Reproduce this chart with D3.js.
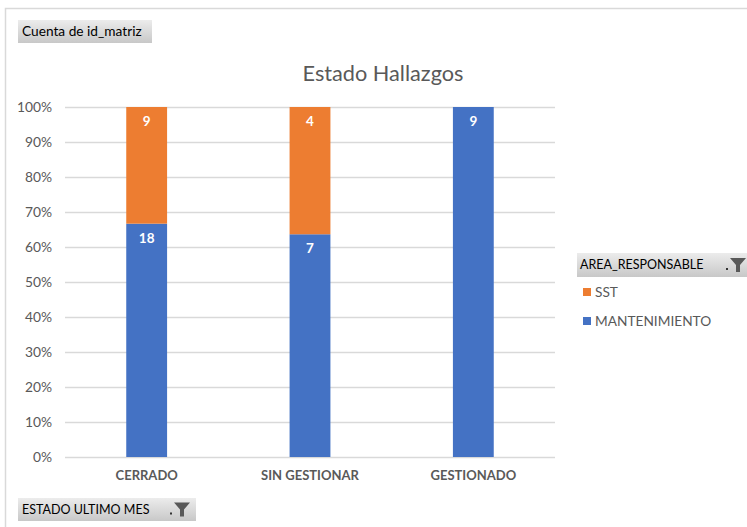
<!DOCTYPE html>
<html>
<head>
<meta charset="utf-8">
<script src="https://cdn.jsdelivr.net/npm/d3@7"></script>
<style>
  body { margin: 0; background: #fff; }
  text { font-family: Lato, "Open Sans", sans-serif; }
</style>
</head>
<body>
<script>
// data
const categories = ["CERRADO", "SIN GESTIONAR", "GESTIONADO"];
const series = ["MANTENIMIENTO", "SST"];
const mantenimiento = [18, 7, 9];
const sst = [9, 4, 0];
const yTicks = [0, 0.1, 0.2, 0.3, 0.4, 0.5, 0.6, 0.7, 0.8, 0.9, 1];
const colors = {"MANTENIMIENTO": "#4472c4", "SST": "#ed7d31"};

const canvWidth = 747, canvHeight = 527;
const svg = d3.select("body").append("svg")
    .attr("width", canvWidth)
    .attr("height", canvHeight);

// outer chart border (top + left visible)
svg.append("path")
    .attr("d", "M5.5," + canvHeight + " V8.5 H" + canvWidth)
    .attr("fill", "none")
    .attr("stroke", "#d9d9d9")
    .attr("stroke-width", 1.5);

const defs = svg.append("defs");
const grad = defs.append("linearGradient")
    .attr("id", "btn")
    .attr("x1", 0).attr("y1", 0).attr("x2", 0).attr("y2", 1);
grad.append("stop").attr("offset", "0%").attr("stop-color", "#ececec");
grad.append("stop").attr("offset", "100%").attr("stop-color", "#c8c8c8");

function fieldButton(x, y, w, h, label, filter, size) {
    const b = svg.append("g").attr("transform", "translate(" + x + "," + y + ")");
    b.append("rect")
        .attr("width", w)
        .attr("height", h)
        .attr("fill", "url(#btn)");
    b.append("text")
        .attr("x", 4)
        .attr("y", h / 2)
        .attr("dy", "0.35em")
        .attr("font-size", size)
        .attr("fill", "#000")
        .text(label);
    if (filter) {
        // little funnel icon
        b.append("rect")
            .attr("x", w - 26).attr("y", h / 2 + 3)
            .attr("width", 2).attr("height", 2)
            .attr("fill", "#333");
        b.append("path")
            .attr("d", "M" + (w - 22) + "," + (h / 2 - 7) + " h16 l-6,7 v7 h-4 v-7 z")
            .attr("fill", "#595959");
    }
}

fieldButton(18, 20, 134, 23, "Cuenta de id_matriz", false, "13.7px");
fieldButton(18, 498, 178, 23, "ESTADO ULTIMO MES", true, "12.5px");

// title
svg.append("text")
    .attr("x", 383)
    .attr("y", 81)
    .attr("text-anchor", "middle")
    .attr("font-size", "21.7px")
    .attr("fill", "#595959")
    .text("Estado Hallazgos");

const margin = {top: 107, left: 65};
const width = 490, height = 350;
const g = svg.append("g")
    .attr("transform", "translate(" + margin.left + "," + margin.top + ")");

const xScale = d3.scaleBand()
    .domain(categories)
    .range([0, width])
    .paddingInner(0.75)
    .paddingOuter(0.375);

const yScale = d3.scaleLinear()
    .domain([0, 1])
    .range([height, 0]);

// gridlines
g.append("g")
    .selectAll("line")
    .data(yTicks)
    .join("line")
    .attr("x1", 0)
    .attr("x2", width)
    .attr("y1", d => yScale(d) + 0.5)
    .attr("y2", d => yScale(d) + 0.5)
    .attr("stroke", "#d9d9d9")
    .attr("stroke-width", 1.5);

// y axis
const yAxis = d3.axisLeft(yScale)
    .tickValues(yTicks)
    .tickFormat(d3.format(".0%"))
    .tickSize(0)
    .tickPadding(13);
g.append("g")
    .attr("id", "y-axis")
    .call(yAxis)
    .call(a => a.select(".domain").remove())
    .call(a => a.selectAll("text")
        .attr("font-size", "13.8px")
        .attr("font-family", "Lato, sans-serif")
        .attr("fill", "#595959"));

// x axis
const xAxis = d3.axisBottom(xScale).tickSize(0).tickPadding(14);
g.append("g")
    .attr("id", "x-axis")
    .attr("transform", "translate(0," + height + ")")
    .call(xAxis)
    .call(a => a.select(".domain").remove())
    .call(a => a.selectAll("text")
        .attr("font-size", "13px")
        .attr("font-weight", "bold")
        .attr("font-family", "Lato, sans-serif")
        .attr("fill", "#595959"));

// stacked bars (100%)
const rows = categories.map((c, i) => ({cat: c, MANTENIMIENTO: mantenimiento[i], SST: sst[i]}));
const stack = d3.stack().keys(series).offset(d3.stackOffsetExpand);
const layers = stack(rows);

const layer = g.selectAll(".layer")
    .data(layers)
    .join("g")
    .attr("class", "layer")
    .attr("fill", d => colors[d.key]);

layer.selectAll("rect")
    .data(d => d.filter(p => p[1] - p[0] > 0))
    .join("rect")
    .attr("x", d => xScale(d.data.cat))
    .attr("y", d => yScale(d[1]))
    .attr("width", xScale.bandwidth())
    .attr("height", d => yScale(d[0]) - yScale(d[1]));

// data labels (near top of each segment)
layer.selectAll("text")
    .data(d => d.filter(p => p[1] - p[0] > 0).map(p => ({p: p, key: d.key})))
    .join("text")
    .attr("x", d => xScale(d.p.data.cat) + xScale.bandwidth() / 2)
    .attr("y", d => yScale(d.p[1]) + 19)
    .attr("text-anchor", "middle")
    .attr("font-size", "13.5px")
    .attr("font-weight", "bold")
    .attr("fill", "#fff")
    .text(d => d.p.data[d.key]);

// legend
const legend = svg.append("g").attr("transform", "translate(577,253)");
legend.append("rect")
    .attr("width", 170)
    .attr("height", 24)
    .attr("fill", "url(#btn)");
legend.append("text")
    .attr("x", 3)
    .attr("y", 12)
    .attr("dy", "0.35em")
    .attr("font-size", "12.5px")
    .attr("fill", "#000")
    .text("AREA_RESPONSABLE");
legend.append("rect")
    .attr("x", 149).attr("y", 15)
    .attr("width", 2).attr("height", 2)
    .attr("fill", "#333");
legend.append("path")
    .attr("d", "M153,5 h16 l-6,7 v7 h-4 v-7 z")
    .attr("fill", "#595959");

const legendKeys = ["SST", "MANTENIMIENTO"];
const entry = legend.selectAll(".entry")
    .data(legendKeys)
    .join("g")
    .attr("class", "entry")
    .attr("transform", (d, i) => "translate(6," + (39 + 29 * i) + ")");
entry.append("rect")
    .attr("y", -4)
    .attr("width", 8)
    .attr("height", 8)
    .attr("fill", d => colors[d]);
entry.append("text")
    .attr("x", 12)
    .attr("dy", "0.35em")
    .attr("font-size", "13.7px")
    .attr("fill", "#595959")
    .text(d => d);
</script>
</body>
</html>
